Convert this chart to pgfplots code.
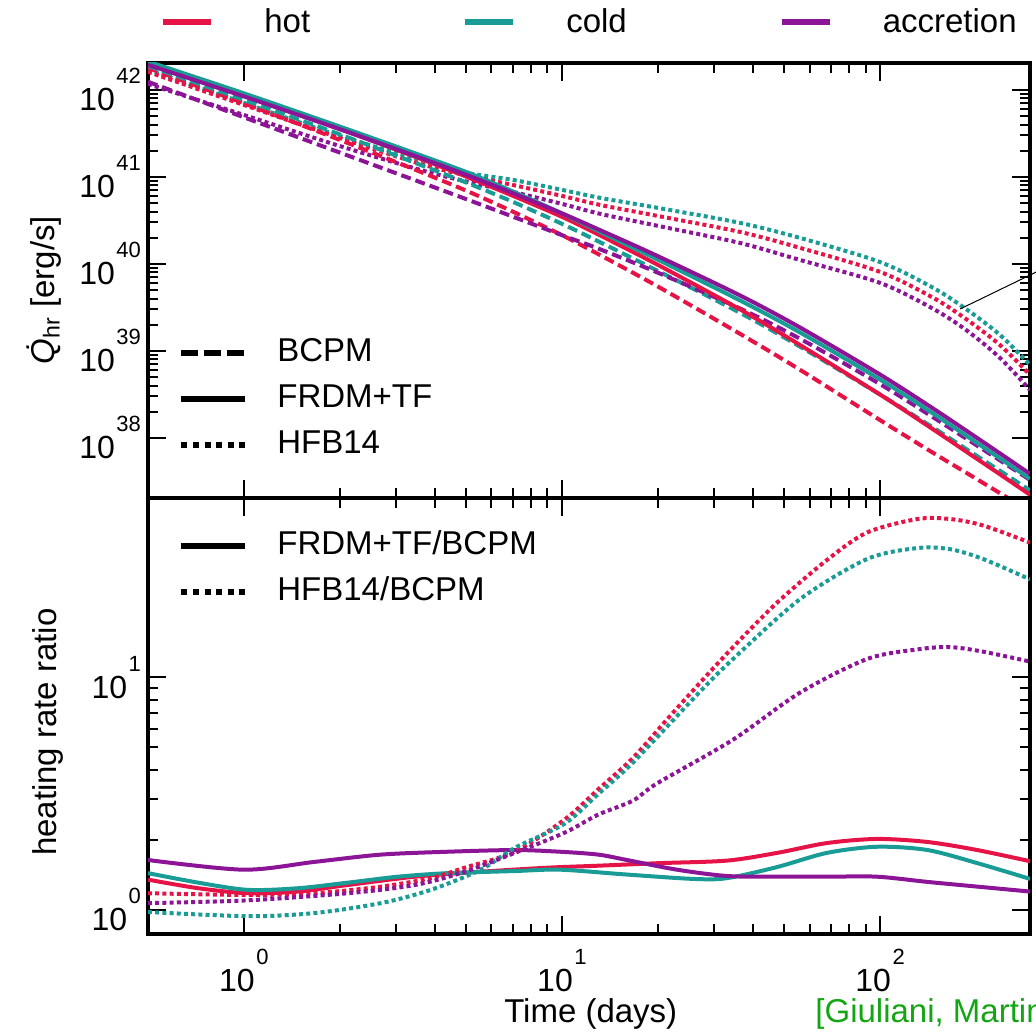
\documentclass[border=0pt]{standalone}
\usepackage{fontspec}
\setmainfont{Liberation Sans}
\usepackage{pgfplots}
\pgfplotsset{compat=1.18}

\definecolor{hotc}{RGB}{230,20,70}
\definecolor{coldc}{RGB}{25,155,150}
\definecolor{accc}{RGB}{140,20,150}
\definecolor{citec}{RGB}{20,165,20}

\newcommand{\tp}[1]{10\hspace{0.8pt}\raisebox{13.5pt}{\fontsize{11}{11}\selectfont #1}}
\newcommand{\lf}{\fontsize{16.5}{19}\selectfont}
\newcommand{\tf}{\fontsize{16}{16}\selectfont}

\begin{document}
\begin{tikzpicture}

% upper panel: heating rates
\begin{axis}[
  at={(74pt,-31.5pt)}, anchor=north west,
  width=441pt, height=217.5pt, scale only axis,
  xmode=log, ymode=log,
  xmin=0.5, xmax=296, ymin=2.04e37, ymax=2.04e42,
  axis line style={line width=2pt},
  tick align=inside, major tick length=9pt, minor tick length=5pt,
  tick style={line width=1pt, black},
  xtick={1,10,100}, xticklabels={},
  ytick={1e38,1e39,1e40,1e41,1e42},
  yticklabels={\tp{38},\tp{39},\tp{40},\tp{41},\tp{42}},
  tick label style={font=\tf},
  ylabel={{\itshape\.{Q}}\textsubscript{hr} [erg/s]},
  every axis y label/.style={at={(axis description cs:-0.118,0.478)}, rotate=90, anchor=center, font=\lf},
  legend cell align=left,
  legend style={at={(0.034,0.375)}, anchor=north west, draw=none, fill=none,
    inner sep=0pt, font=\lf,
    nodes={inner sep=1pt, text height=12pt, text depth=3.5pt},
    row sep=5.5pt,
    /tikz/every odd column/.append style={column sep=13.5pt}},
  legend image code/.code={\draw[#1] (0pt,0pt) -- (32pt,0pt);},
]
\addlegendimage{black, line width=3pt, dash pattern=on 8.5pt off 3pt}
\addlegendentry{BCPM}
\addlegendimage{black, line width=3pt}
\addlegendentry{FRDM+TF}
\addlegendimage{black, line width=3pt, dash pattern=on 3pt off 2.8pt}
\addlegendentry{HFB14}

% HFB14 (dotted)
\addplot[forget plot, smooth, line width=2pt, dash pattern=on 2pt off 1.6pt, coldc] coordinates {(0.5,1.70e42)(1,7.10e41)(2,2.96e41)(3.6,1.57e41)(5.06,1.11e41)(7,9.25e40)(10,7.10e40)(13.2,5.74e40)(20,4.41e40)(36.3,2.96e40)(56,1.99e40)(100,1.05e40)(147,5.30e39)(188,2.96e39)(238,1.53e39)(296,6.90e38)};
\addplot[forget plot, smooth, line width=2pt, dash pattern=on 2pt off 1.6pt, hotc] coordinates {(0.5,1.61e42)(1,6.73e41)(2,2.81e41)(3.6,1.41e41)(5.06,1.03e41)(7,8.09e40)(10,6.05e40)(13.2,4.76e40)(20,3.56e40)(36.3,2.33e40)(56,1.53e40)(100,8.09e39)(147,4.07e39)(188,2.27e39)(238,1.17e39)(296,5.30e38)};
\addplot[forget plot, smooth, line width=2pt, dash pattern=on 2pt off 1.6pt, accc] coordinates {(0.5,1.17e42)(1,5.16e41)(2,2.27e41)(3.6,1.20e41)(5.06,8.77e40)(7,6.73e40)(10,4.90e40)(13.2,3.76e40)(20,2.74e40)(36.3,1.74e40)(56,1.11e40)(100,6.05e39)(147,3.04e39)(188,1.70e39)(238,8.32e38)(296,3.56e38)};
% BCPM (dashed)
\addplot[forget plot, smooth, line width=2pt, dash pattern=on 5pt off 2.5pt, hotc] coordinates {(0.5,1.79e42)(1,7.03e41)(2,2.67e41)(3.6,1.14e41)(5.06,6.82e40)(7,4.00e40)(10,2.14e40)(13.2,1.26e40)(20,5.51e39)(36.3,1.57e39)(56,6.07e38)(100,1.60e38)(147,6.71e37)(188,3.91e37)(238,2.32e37)(296,1.44e37)};
\addplot[forget plot, smooth, line width=2pt, dash pattern=on 5pt off 2.5pt, coldc] coordinates {(0.5,1.89e42)(1,7.69e41)(2,3.09e41)(3.6,1.37e41)(5.06,8.47e40)(7,5.18e40)(10,2.89e40)(13.2,1.77e40)(20,8.32e39)(36.3,2.74e39)(56,1.12e39)(100,3.15e38)(147,1.31e38)(188,7.31e37)(238,4.19e37)(296,2.49e37)};
\addplot[forget plot, smooth, line width=2pt, dash pattern=on 5pt off 2.5pt, accc] coordinates {(0.5,1.24e42)(1,4.85e41)(2,1.91e41)(3.6,8.67e40)(5.06,5.47e40)(7,3.50e40)(10,2.14e40)(13.2,1.47e40)(20,7.94e39)(36.3,3.07e39)(56,1.38e39)(100,4.15e38)(147,1.72e38)(188,9.64e37)(238,5.52e37)(296,3.29e37)};
% FRDM+TF (solid)
\addplot[forget plot, smooth, line width=2pt, hotc] coordinates {(0.5,1.99e42)(1,8.53e41)(2,3.55e41)(3.6,1.61e41)(5.06,9.91e40)(7,6.08e40)(10,3.48e40)(13.2,2.12e40)(20,9.77e39)(36.3,3.00e39)(56,1.17e39)(100,3.15e38)(147,1.25e38)(188,6.82e37)(238,3.82e37)(296,2.22e37)};
\addplot[forget plot, smooth, line width=2pt, coldc] coordinates {(0.5,2.12e42)(1,9.14e41)(2,3.80e41)(3.6,1.77e41)(5.06,1.12e41)(7,6.82e40)(10,3.81e40)(13.2,2.33e40)(20,1.12e40)(36.3,3.80e39)(56,1.63e39)(100,4.69e38)(147,1.90e38)(188,1.04e38)(238,5.82e37)(296,3.39e37)};
\addplot[forget plot, smooth, line width=2pt, accc] coordinates {(0.5,1.94e42)(1,8.43e41)(2,3.55e41)(3.6,1.65e41)(5.06,1.04e41)(7,6.52e40)(10,3.81e40)(13.2,2.44e40)(20,1.23e40)(36.3,4.34e39)(56,1.86e39)(100,5.35e38)(147,2.17e38)(188,1.19e38)(238,6.64e37)(296,3.86e37)};

\coordinate (an1) at (axis cs:178.6,3.04e39);
\coordinate (an2) at (axis cs:310,8.09e39);
\end{axis}
\draw[line width=0.5pt] (an1) -- (an2);

% colour legend above the panels
\begin{axis}[at={(74pt,-31.5pt)}, anchor=north west, width=441pt, height=217.5pt,
  scale only axis, hide axis, xmin=0, xmax=1, ymin=0, ymax=1,
  legend columns=3,
  legend style={at={(0.0136,1.094)}, anchor=west, draw=none, fill=none,
    inner sep=0pt, font=\lf, nodes={inner sep=1pt},
    /tikz/every odd column/.append style={column sep=24pt},
    /tikz/every even column/.append style={column sep=75pt}},
  legend image code/.code={\draw[#1] (0pt,0pt) -- (24pt,0pt);},
]
\addlegendimage{hotc, line width=3pt}
\addlegendentry{hot}
\addlegendimage{coldc, line width=3pt}
\addlegendentry{cold}
\addlegendimage{accc, line width=3pt}
\addlegendentry{accretion}
\end{axis}

% lower panel: ratios
\begin{axis}[
  at={(74pt,-249pt)}, anchor=north west,
  width=441pt, height=218pt, scale only axis,
  xmode=log, ymode=log,
  xmin=0.5, xmax=296, ymin=0.788, ymax=59.1,
  axis line style={line width=2pt},
  tick align=inside, major tick length=9pt, minor tick length=5pt,
  tick style={line width=1pt, black},
  xtick={1,10,100},
  xticklabels={\tp{0},\tp{1},\tp{2}},
  ytick={1,10},
  yticklabels={\tp{0},\tp{1}},
  tick label style={font=\tf},
  xticklabel style={inner sep=1pt, yshift=-6.5pt},
  xlabel={Time (days)},
  ylabel={heating rate ratio},
  every axis x label/.style={at={(axis description cs:0.502,-0.183)}, anchor=center, font=\lf, inner sep=1pt},
  every axis y label/.style={at={(axis description cs:-0.113,0.463)}, rotate=90, anchor=center, font=\lf},
  legend cell align=left,
  legend style={at={(0.034,0.931)}, anchor=north west, draw=none, fill=none,
    inner sep=0pt, font=\lf,
    nodes={inner sep=1pt, text height=12pt, text depth=3.5pt},
    row sep=5.5pt,
    /tikz/every odd column/.append style={column sep=13.5pt}},
  legend image code/.code={\draw[#1] (0pt,0pt) -- (32pt,0pt);},
]
\addlegendimage{black, line width=3pt}
\addlegendentry{FRDM+TF/BCPM}
\addlegendimage{black, line width=3pt, dash pattern=on 3pt off 2.8pt}
\addlegendentry{HFB14/BCPM}

% FRDM+TF / BCPM
\addplot[forget plot, smooth, line width=2pt, hotc] coordinates {(0.5,1.35)(0.72,1.24)(1.03,1.18)(1.48,1.20)(2.12,1.28)(3.45,1.39)(5.56,1.46)(9.04,1.52)(13.0,1.55)(20.3,1.59)(33.0,1.63)(47.5,1.76)(68.1,1.94)(97.9,2.02)(141,1.96)(202,1.81)(296,1.62)};
\addplot[forget plot, smooth, line width=2pt, coldc] coordinates {(0.5,1.44)(0.72,1.31)(1.03,1.22)(1.48,1.24)(2.12,1.31)(3.05,1.39)(4.38,1.44)(7.11,1.47)(9.86,1.49)(16.0,1.42)(25.8,1.36)(33.0,1.37)(47.5,1.53)(68.1,1.76)(97.9,1.87)(141,1.81)(202,1.59)(296,1.36)};
\addplot[forget plot, smooth, line width=2pt, accc] coordinates {(0.5,1.64)(1.0,1.49)(1.67,1.61)(2.70,1.73)(4.38,1.78)(7.11,1.81)(9.86,1.78)(13.0,1.73)(16.0,1.64)(23.0,1.49)(33.0,1.40)(47.5,1.39)(68.1,1.39)(97.9,1.39)(141,1.32)(202,1.26)(296,1.20)};
% HFB14 / BCPM
\addplot[forget plot, smooth, line width=2pt, dash pattern=on 2pt off 1.6pt, hotc] coordinates {(0.5,1.18)(1.03,1.16)(1.67,1.18)(2.70,1.26)(3.87,1.37)(4.95,1.52)(7.11,1.78)(10.2,2.45)(13.0,3.3)(16.7,4.5)(21.4,6.6)(27.2,9.5)(34.5,13.5)(47.5,21)(68.1,32)(91,42)(131,48)(166,48)(211,45)(296,38)};
\addplot[forget plot, smooth, line width=2pt, dash pattern=on 2pt off 1.6pt, coldc] coordinates {(0.5,0.98)(1.03,0.94)(1.67,0.97)(2.70,1.07)(3.87,1.22)(5.56,1.49)(7.11,1.85)(10.2,2.35)(13.0,3.15)(16.7,4.3)(27.2,8.7)(34.5,12.0)(56,21.7)(91,32.3)(131,36.0)(166,35.6)(211,32.3)(296,26.4)};
\addplot[forget plot, smooth, line width=2pt, dash pattern=on 2pt off 1.6pt, accc] coordinates {(0.5,1.07)(1.03,1.10)(2.12,1.18)(3.45,1.28)(4.95,1.46)(7.11,1.76)(10.2,2.15)(13.0,2.57)(16.7,2.95)(19.9,3.5)(34.5,5.4)(56,8.6)(91,12.0)(131,13.2)(166,13.5)(211,12.9)(296,11.7)};
\end{axis}

\node[anchor=west, text=citec, font=\lf, inner sep=0pt] at (407.5pt,-507pt) {[Giuliani, Martinez-Pinedo]};

\pgfresetboundingbox
\path[use as bounding box] (0pt,0pt) rectangle (518pt,-517.5pt);
\end{tikzpicture}
\end{document}
